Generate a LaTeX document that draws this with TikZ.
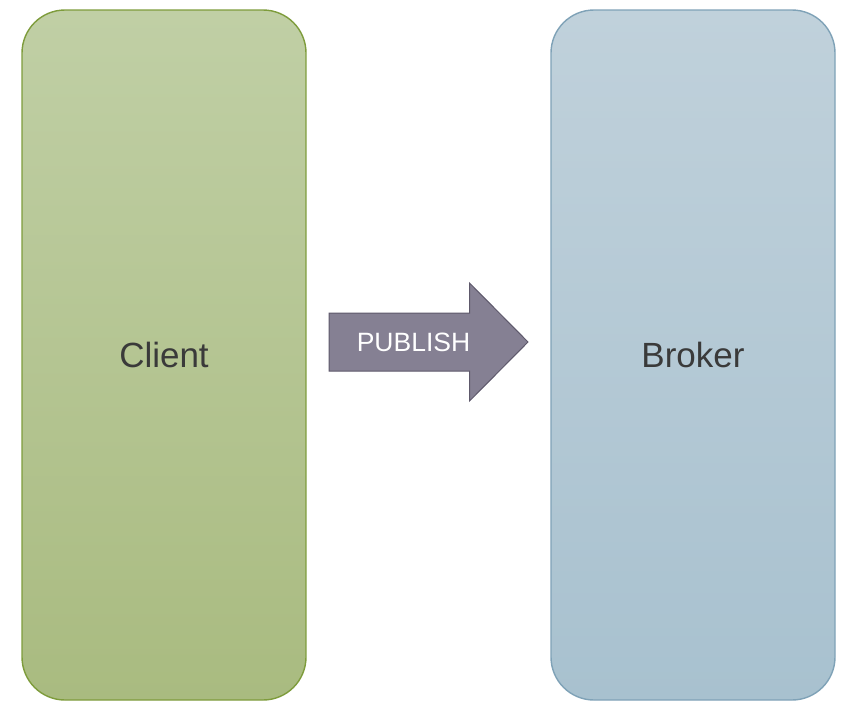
\documentclass[tikz,border=0pt]{standalone}
\usepackage{fontspec}
\setmainfont{Liberation Sans}
\definecolor{cltop}{HTML}{C0CFA5}
\definecolor{clbot}{HTML}{A9BB80}
\definecolor{cldraw}{HTML}{7E9C3C}
\definecolor{brtop}{HTML}{C0D1DB}
\definecolor{brbot}{HTML}{A8C1CF}
\definecolor{brdraw}{HTML}{7FA2B7}
\definecolor{arfill}{HTML}{858093}
\definecolor{ardraw}{HTML}{5E596B}
\definecolor{txt}{HTML}{3A3A3A}
\tikzset{
  panel/.style={rectangle, rounded corners=43pt, minimum width=284pt, minimum height=690pt, line width=1.4pt, inner sep=0pt, text=txt, font=\fontsize{35}{38}\selectfont},
  arrowshape/.style={fill=arfill, draw=ardraw, line width=1pt, line join=miter},
  arrowlabel/.style={text=white, font=\fontsize{26.5}{30}\selectfont, inner sep=0pt}
}
\begin{document}
\begin{tikzpicture}[x=1pt,y=-1pt]
\useasboundingbox (0,0) rectangle (854,718);
\node[panel, draw=cldraw, top color=cltop, bottom color=clbot] (client) at (164,355) {Client};
\node[panel, draw=brdraw, top color=brtop, bottom color=brbot] (broker) at (693,355) {Broker};
\coordinate (a1) at (329,313);
\coordinate (a2) at (469.5,313);
\coordinate (a3) at (469.5,283);
\coordinate (a4) at (528,342);
\coordinate (a5) at (469.5,401);
\coordinate (a6) at (469.5,371);
\coordinate (a7) at (329,371);
\draw[arrowshape] (a1) -- (a2) -- (a3) -- (a4) -- (a5) -- (a6) -- (a7) -- cycle;
\node[arrowlabel] (pub) at (413.5,342) {PUBLISH};
\end{tikzpicture}
\end{document}
